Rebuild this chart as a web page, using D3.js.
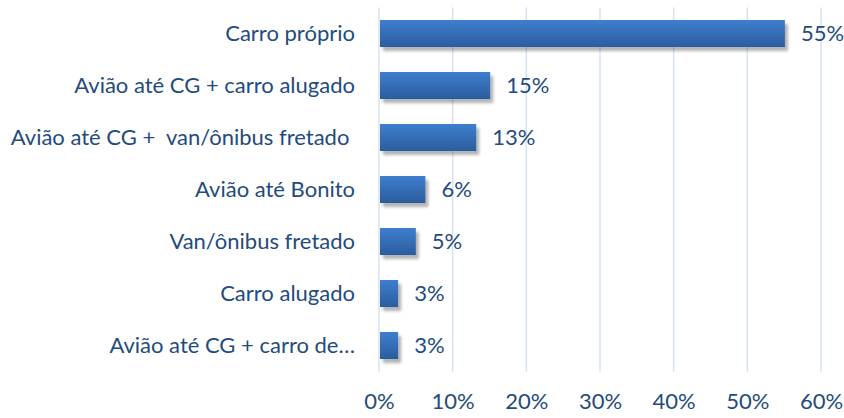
<!DOCTYPE html>
<html>
<head>
<meta charset="utf-8">
<script src="https://cdn.jsdelivr.net/npm/d3@7"></script>
<style>
  body { margin: 0; background: #fff; }
  text { font-family: Lato, "Open Sans", sans-serif; fill: #234b7d; }
</style>
</head>
<body>
<svg id="chart"></svg>
<script>
// chart data
const categories = [
    "Carro próprio",
    "Avião até CG + carro alugado",
    "Avião até CG +  van/ônibus fretado ",
    "Avião até Bonito",
    "Van/ônibus fretado",
    "Carro alugado",
    "Avião até CG + carro de…"
];
const shares = [0.551, 0.151, 0.132, 0.063, 0.050, 0.026, 0.026];
const tickValues = [0, 0.1, 0.2, 0.3, 0.4, 0.5, 0.6];

const width = 844, height = 418;
const margin = { top: 7.5, right: 23, bottom: 46.5, left: 379 };
const fontSize = '22px';

const svg = d3.select('#chart')
    .attr('width', width)
    .attr('height', height);

const defs = svg.append('defs');
const grad = defs.append('linearGradient')
    .attr('id', 'barGrad')
    .attr('x1', 0).attr('y1', 0).attr('x2', 0).attr('y2', 1);
grad.append('stop').attr('offset', '0%').attr('stop-color', '#3e7fcf');
grad.append('stop').attr('offset', '100%').attr('stop-color', '#2b5c9c');

const shadow = defs.append('filter')
    .attr('id', 'shadow')
    .attr('x', '-20%').attr('y', '-20%')
    .attr('width', '160%').attr('height', '180%');
shadow.append('feGaussianBlur').attr('in', 'SourceAlpha').attr('stdDeviation', 1.6);
shadow.append('feOffset').attr('dx', 3).attr('dy', 4).attr('result', 'off');
shadow.append('feComponentTransfer').append('feFuncA').attr('type', 'linear').attr('slope', 0.3);
const merge = shadow.append('feMerge');
merge.append('feMergeNode');
merge.append('feMergeNode').attr('in', 'SourceGraphic');

const x = d3.scaleLinear()
    .domain([0, 0.6])
    .range([margin.left, width - margin.right]);

const y = d3.scaleBand()
    .domain(categories)
    .range([margin.top, height - margin.bottom])
    .paddingInner(0.48)
    .paddingOuter(0.24);

// gridlines
svg.append('g')
    .selectAll('line')
    .data(tickValues)
    .enter().append('line')
    .attr('x1', d => x(d))
    .attr('x2', d => x(d))
    .attr('y1', margin.top)
    .attr('y2', height - margin.bottom)
    .attr('stroke', '#d6e2f2')
    .attr('stroke-width', 1.5);

// x axis
const xAxis = svg.append('g')
    .attr('transform', `translate(0,${height - margin.bottom})`)
    .call(d3.axisBottom(x).tickValues(tickValues).tickFormat(d3.format('.0%')).tickSize(0).tickPadding(22));
xAxis.select('.domain').remove();
xAxis.selectAll('text')
    .style('font-size', fontSize)
    .attr('fill', '#234b7d');

// y axis labels
const yAxis = svg.append('g')
    .attr('transform', `translate(${margin.left},0)`)
    .call(d3.axisLeft(y).tickSize(0).tickPadding(24));
yAxis.select('.domain').remove();
yAxis.selectAll('text')
    .style('font-size', fontSize)
    .style('white-space', 'pre')
    .attr('fill', '#234b7d');

// bars
svg.selectAll('.bar')
    .data(shares)
    .enter().append('rect')
    .attr('class', 'bar')
    .attr('x', x(0) + 1)
    .attr('y', (d, i) => y(categories[i]))
    .attr('width', d => x(d) - x(0) - 1)
    .attr('height', y.bandwidth())
    .attr('fill', 'url(#barGrad)')
    .attr('filter', 'url(#shadow)');

// value labels
svg.selectAll('.value')
    .data(shares)
    .enter().append('text')
    .attr('class', 'value')
    .attr('x', d => x(d) + 16)
    .attr('y', (d, i) => y(categories[i]) + y.bandwidth() / 2)
    .attr('dy', '0.35em')
    .style('font-size', fontSize)
    .text(d => d3.format('.0%')(d));
</script>
</body>
</html>
